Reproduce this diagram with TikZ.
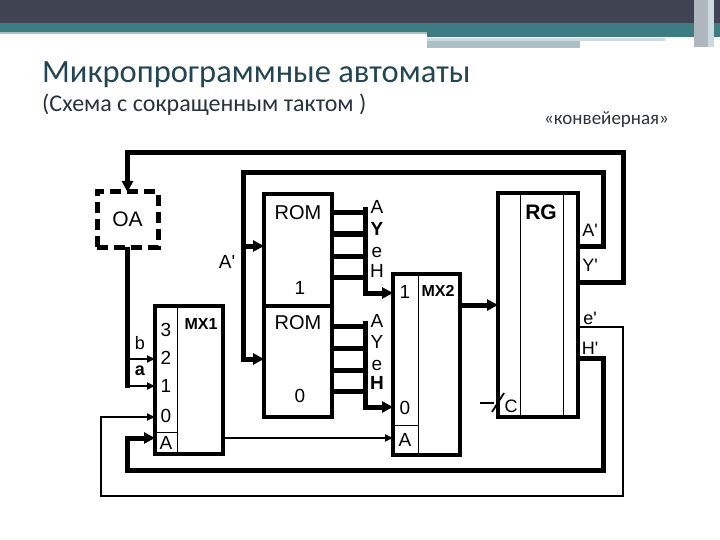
\documentclass[tikz,border=0pt]{standalone}
\usepackage{fontspec}
\newfontfamily\diagfont{Liberation Sans}
\newfontfamily\ttlfont{Carlito}
\usetikzlibrary{arrows.meta}
\definecolor{hdrdark}{RGB}{64,68,82}
\definecolor{hdrteal}{RGB}{62,124,132}
\definecolor{hdrpale}{RGB}{168,192,198}
\definecolor{hdrlight}{RGB}{205,218,221}
\definecolor{hdrgray}{RGB}{176,182,190}
\definecolor{ttlcol}{RGB}{34,70,82}
\definecolor{subcol}{RGB}{40,52,60}
\begin{document}
\begin{tikzpicture}[x=1pt,y=-1pt,
  box/.style={draw, line width=3.5pt, inner sep=0pt, outer sep=0pt, anchor=north west},
  oabox/.style={draw, line width=5pt, dash pattern=on 11pt off 6pt, inner sep=0pt, outer sep=0pt, anchor=north west},
  thk/.style={line width=5pt, line join=miter},
  thn/.style={line width=1.8pt, line join=miter},
  fine/.style={line width=0.8pt},
  arrK/.style={-{Triangle[length=11pt,width=11pt]}},
  arrT/.style={-{Triangle[length=8pt,width=7pt]}},
  lbl/.style={inner sep=0pt, font=\diagfont\fontsize{19}{19}\selectfont},
  blbl/.style={inner sep=0pt, font=\diagfont\fontsize{16}{16}\selectfont\bfseries},
  slbl/.style={inner sep=0pt, font=\diagfont\fontsize{18}{18}\selectfont},
  hdr/.style={inner sep=0pt, anchor=base west}
]
\useasboundingbox (0,0) rectangle (720,540);
\fill[white] (0,0) rectangle (720,540);
% header
\fill[hdrdark] (0,0) rectangle (720,23);
\fill[hdrteal] (0,23) rectangle (720,32);
\fill[hdrpale] (0,32) rectangle (427,34);
\fill[hdrteal] (427,32) rectangle (720,37);
\fill[hdrlight] (427,38) rectangle (665,41);
\fill[hdrpale] (427,41) rectangle (580,48);
\fill[hdrgray] (694,0) rectangle (708,47);
\fill[hdrlight] (708,0) rectangle (714,47);
% titles
\node[hdr, text=ttlcol, font=\ttlfont\fontsize{32.5}{32.5}\selectfont] (title) at (42,83) {Микропрограммные автоматы};
\node[hdr, text=subcol, font=\ttlfont\fontsize{24}{24}\selectfont] (subtitle) at (42,112) {(Схема с сокращенным тактом )};
\node[hdr, text=subcol, font=\ttlfont\fontsize{19}{19}\selectfont] (kind) at (544,125) {«конвейерная»};

% boxes
\node[oabox, minimum width=61pt, minimum height=55pt] (oa) at (97,192) {};
\node[lbl, font=\diagfont\fontsize{21}{21}\selectfont] (oat) at (oa.center) {OA};
\node[box, minimum width=68pt, minimum height=148pt] (mx1) at (155,306) {};
\node[box, minimum width=68pt, minimum height=112pt] (rom1) at (264,194) {};
\node[box, minimum width=68pt, minimum height=111pt] (rom0) at (264,306) {};
\node[box, minimum width=67pt, minimum height=181pt] (mx2) at (393,274) {};
\node[box, minimum width=80pt, minimum height=224pt] (rg) at (498,193) {};

% inner dividers
\draw[fine] (177,306) -- (177,454);
\draw[fine] (155,432) -- (177,432);
\draw[fine] (418,274) -- (418,455);
\draw[fine] (393,425) -- (418,425);
\draw[fine] (520,193) -- (520,417);
\draw[fine] (563,193) -- (563,417);

% box texts
\node[lbl, font=\diagfont\fontsize{20}{20}\selectfont] (rom1t) at (298,213) {ROM};
\node[lbl] (rom1n) at (300,288) {1};
\node[lbl, font=\diagfont\fontsize{20}{20}\selectfont] (rom0t) at (298,323) {ROM};
\node[lbl] (rom0n) at (300,396) {0};
\node[lbl] (m13) at (166,330) {3};
\node[lbl] (m12) at (166,358) {2};
\node[lbl] (m11) at (166,386) {1};
\node[lbl] (m10) at (166,416) {0};
\node[lbl] (m1a) at (166,443) {A};
\node[blbl] (mx1t) at (201,324) {MX1};
\node[lbl] (m21) at (405,292) {1};
\node[blbl] (mx2t) at (438,291) {MX2};
\node[lbl] (m20) at (405,408) {0};
\node[lbl] (m2a) at (405,440) {A};
\node[blbl, font=\diagfont\fontsize{21}{21}\selectfont\bfseries] (rgt) at (541,212) {RG};

% bus labels
\node[lbl] (b1a) at (377,207) {A};
\node[lbl, font=\diagfont\fontsize{19}{19}\selectfont\bfseries] (b1y) at (377,229) {Y};
\node[lbl] (b1e) at (377,252) {e};
\node[lbl] (b1h) at (377,271) {H};
\node[lbl] (b0a) at (377,321) {A};
\node[lbl] (b0y) at (377,342) {Y};
\node[lbl] (b0e) at (377,365) {e};
\node[lbl, font=\diagfont\fontsize{19}{19}\selectfont\bfseries] (b0h) at (377,383) {H};

% RG output labels
\node[slbl] (oA) at (590,230) {A'};
\node[slbl] (oY) at (590,265) {Y'};
\node[slbl] (oE) at (590,318) {e'};
\node[slbl] (oH) at (590,348) {H'};
\node[lbl] (apl) at (227,262) {A'};
\node[slbl] (lb) at (140,343) {b};
\node[slbl, font=\diagfont\fontsize{18}{18}\selectfont\bfseries] (la) at (140,371) {a};
\node[slbl] (lc) at (511,406) {C};

% port coordinates
\coordinate (pA) at (578,246);
\coordinate (pY) at (578,282);
\coordinate (pE) at (578,327);
\coordinate (pH) at (578,358);
\coordinate (ap1) at (243,246);
\coordinate (ap0) at (243,359);

% connectors
\draw[thk, arrK] (pY) -- (623,282) -- (623,153) -| (oa.north);
\draw[thk, arrK] (pA) -- (603,246) -- (603,173) -| (ap0) -- (ap0 -| rom0.west);
\draw[thk, arrK] (ap1) -- (ap1 -| rom1.west);
\foreach \yy in {213,234,256,277} \draw[thk] (rom1.east |- 0,\yy) -- (365,\yy);
\foreach \yy in {326,348,370,391} \draw[thk] (rom0.east |- 0,\yy) -- (365,\yy);
\draw[thk, arrK] (365,207) -- (365,293) -- (mx2.west |- 0,293);
\draw[thk, arrK] (365,321) -- (365,407) -- (mx2.west |- 0,407);
\draw[thk] (oa.south) -- (oa.south |- 0,388);
\draw[thn, arrT] (oa.south |- 0,359) -- (mx1.west |- 0,359);
\draw[thn, arrT] (oa.south |- 0,386) -- (mx1.west |- 0,386);
\draw[thn, arrT] (pE) -- (623,327) -- (623,496) -- (101,496) |- (mx1.west |- 0,417);
\draw[thk, arrK] (pH) -- (603,358) -- (603,470) -- (127,470) |- (mx1.west |- 0,438);
\draw[thn, arrT] (mx1.east |- 0,438) -- (mx2.west |- 0,438);
\draw[thk, arrK] (mx2.east |- 0,305) -- (rg.west |- 0,305);
\draw[thn] (480,403) -- (494,403);
\draw[thn] (492,412) -- (504,393);
\end{tikzpicture}
\end{document}
